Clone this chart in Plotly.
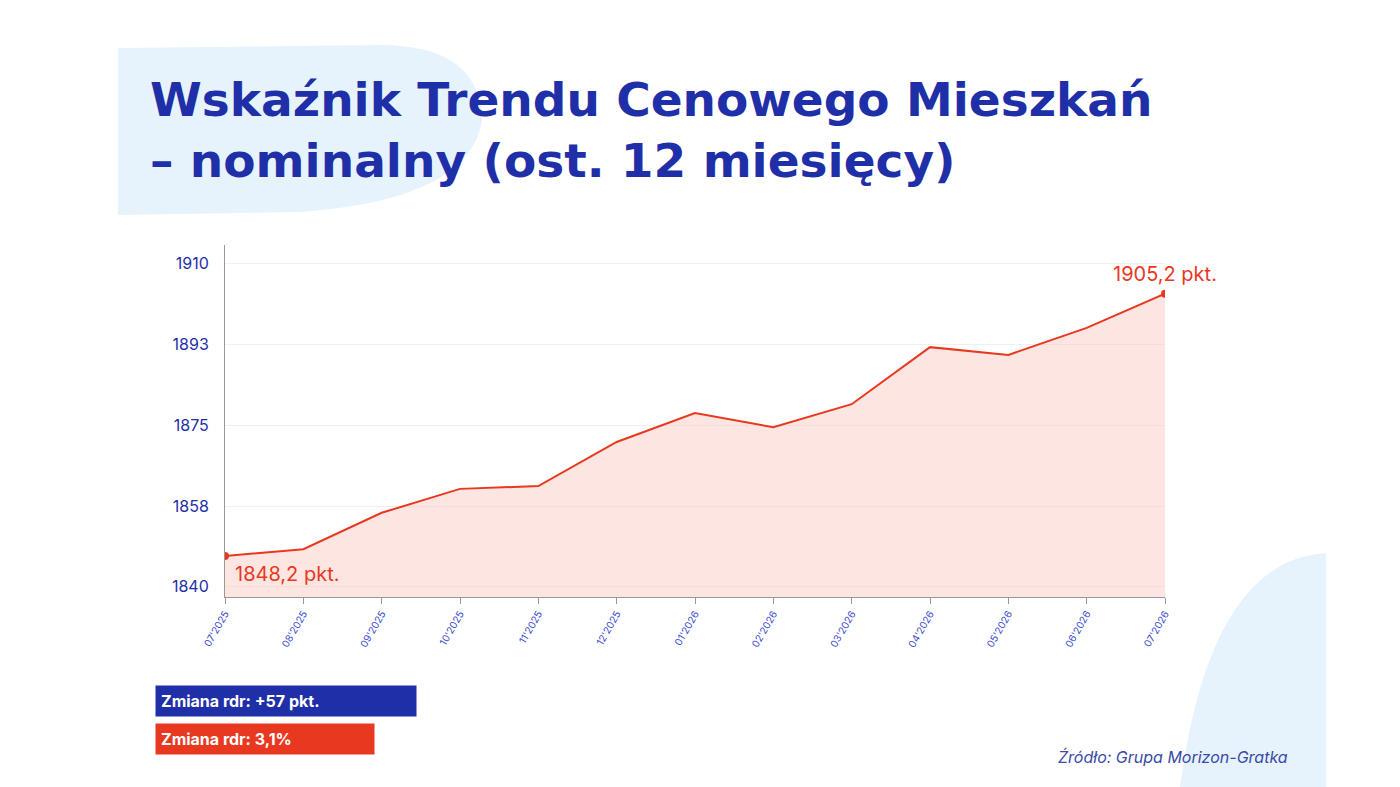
import plotly.graph_objects as go

months = ["07'2025", "08'2025", "09'2025", "10'2025", "11'2025", "12'2025", "01'2026",
          "02'2026", "03'2026", "04'2026", "05'2026", "06'2026", "07'2026"]
values = [1848.2, 1849.7, 1857.6, 1862.8, 1863.4, 1873.0, 1879.3,
          1876.2, 1881.2, 1893.6, 1891.9, 1897.8, 1905.2]
tick_vals = [1841.5, 1859.05, 1876.6, 1894.15, 1911.7]
tick_text = ["1840", "1858", "1875", "1893", "1910"]

RED = "#e8381f"
BLUE = "#1f2fa8"
W, H = 1400, 787
OFF = 8  # page offset of the figure in the browser
L, R, T, B = 225 - OFF, 235 + OFF, 245 - OFF, 190 + OFF
PW, PH = W - L - R, H - T - B


def px(x, y):
    # screen pixel position -> paper coordinates
    return (x - OFF - L) / PW, (H - B - (y - OFF)) / PH


def path(points):
    out = []
    for cmd, pts in points:
        coords = " ".join("%.4f,%.4f" % px(*p) for p in pts)
        out.append(cmd + " " + coords)
    return " ".join(out) + " Z"


fig = go.Figure()
fig.add_trace(go.Scatter(x=list(range(len(months))), y=values, mode="lines",
                         line=dict(color=RED, width=2), fill="tozeroy",
                         fillcolor="rgba(250,200,190,0.45)", hoverinfo="y"))
fig.add_trace(go.Scatter(x=[0, len(months) - 1], y=[values[0], values[-1]], mode="markers",
                         marker=dict(color=RED, size=8)))

fig.add_annotation(x=0, y=values[0], text="1848,2 pkt.", showarrow=False,
                   xanchor="left", yanchor="top", xshift=8, yshift=-4,
                   font=dict(size=20, color=RED))
fig.add_annotation(x=len(months) - 1, y=values[-1], text="1905,2 pkt.", showarrow=False,
                   xanchor="center", yanchor="bottom", yshift=6,
                   font=dict(size=20, color=RED))

# background blobs
fig.add_shape(type="path", xref="paper", yref="paper", layer="below", line_width=0,
              fillcolor="#e6f3fd",
              path=path([("M", [(118, 215)]), ("L", [(118, 48)]), ("L", [(380, 45)]),
                         ("Q", [(480, 45), (482, 120)]), ("Q", [(470, 200), (300, 212)])]))
fig.add_shape(type="path", xref="paper", yref="paper", layer="below", line_width=0,
              fillcolor="#e6f3fd",
              path=path([("M", [(1326, 553)]), ("Q", [(1210, 560), (1180, 787)]),
                         ("L", [(1326, 787)])]))

fig.add_annotation(xref="paper", yref="paper", x=px(148, 0)[0], y=px(0, 70)[1],
                   xanchor="left", yanchor="top", align="left", showarrow=False,
                   text="<b>Wskaźnik Trendu Cenowego Mieszkań<br>– nominalny (ost. 12 miesięcy)</b>",
                   font=dict(size=47, color=BLUE, family="DejaVu Sans"))
fig.add_annotation(xref="paper", yref="paper", x=px(155, 0)[0], y=px(0, 701)[1],
                   xanchor="left", yanchor="middle", showarrow=False,
                   text="<b>Zmiana rdr: +57 pkt.</b>", bgcolor=BLUE,
                   font=dict(size=16, color="white"), borderpad=5, width=250, align="left")
fig.add_annotation(xref="paper", yref="paper", x=px(155, 0)[0], y=px(0, 739)[1],
                   xanchor="left", yanchor="middle", showarrow=False,
                   text="<b>Zmiana rdr: 3,1%</b>", bgcolor=RED,
                   font=dict(size=16, color="white"), borderpad=5, width=208, align="left")
fig.add_annotation(xref="paper", yref="paper", x=px(1290, 0)[0], y=px(0, 757)[1],
                   xanchor="right", yanchor="middle", showarrow=False,
                   text="<i>Źródło: Grupa Morizon-Gratka</i>",
                   font=dict(size=16, color="#3a4aa8"))

fig.update_xaxes(range=[0, len(months) - 1], tickvals=list(range(len(months))), ticktext=months,
                 tickangle=-60, tickfont=dict(size=10, color="#3a4ad0"), showgrid=False,
                 showline=True, linecolor="#999", ticks="outside", tickcolor="#999", ticklen=6)
fig.update_yaxes(range=[1839.3, 1915.8], tickvals=tick_vals, ticktext=tick_text,
                 tickfont=dict(size=16, color=BLUE), showgrid=True, gridcolor="#f0f0f0",
                 showline=True, linecolor="#999", zeroline=False, ticklabelstandoff=12)
fig.update_layout(width=W, height=H, showlegend=False, plot_bgcolor="white", paper_bgcolor="white",
                  font=dict(family="Inter"),
                  margin=dict(l=L, r=R, t=T, b=B))
fig.write_html("out.html")
